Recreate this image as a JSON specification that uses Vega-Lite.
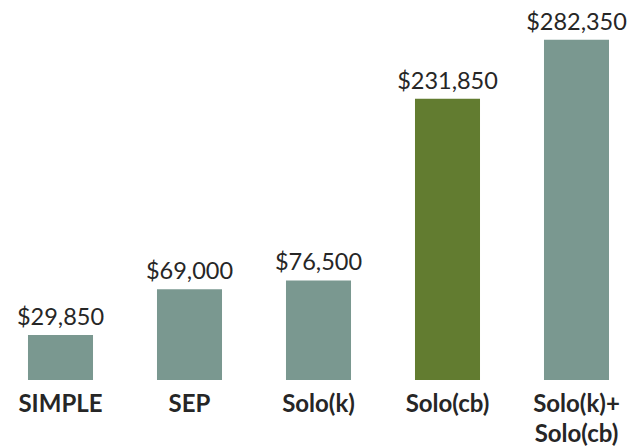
{
  "$schema": "https://vega.github.io/schema/vega-lite/v6.json",
  "width": 636,
  "height": 380,
  "autosize": "none",
  "padding": {"left": 0, "top": 0, "right": 0, "bottom": 67},
  "background": "white",
  "config": {"view": {"stroke": null}, "font": "Lato"},
  "data": {"values": [
    {"plan": "SIMPLE", "amount": 29850, "highlight": "no"},
    {"plan": "SEP", "amount": 69000, "highlight": "no"},
    {"plan": "Solo(k)", "amount": 76500, "highlight": "no"},
    {"plan": "Solo(cb)", "amount": 231850, "highlight": "yes"},
    {"plan": "Solo(k)+\nSolo(cb)", "amount": 282350, "highlight": "no"}
  ]},
  "encoding": {
    "x": {"field": "plan", "type": "nominal", "sort": null,
      "scale": {"range": [-4, 641], "paddingInner": 0.496, "paddingOuter": 0.248},
      "axis": {"title": null, "domain": false, "ticks": false, "labelAngle": 0,
        "labelFont": "Lato", "labelFontWeight": "bold", "labelFontSize": 24,
        "labelColor": "#262626", "labelPadding": 12, "labelLineHeight": 30,
        "labelExpr": "split(datum.label, '\\n')"}},
    "y": {"field": "amount", "type": "quantitative",
      "scale": {"domain": [-8730, 316390], "zero": false, "nice": false},
      "axis": null}
  },
  "layer": [
    {"mark": {"type": "bar"},
     "encoding": {
       "y2": {"datum": -8730},
       "color": {"field": "highlight", "type": "nominal",
         "scale": {"domain": ["no", "yes"], "range": ["#7A9890", "#627C30"]},
         "legend": null}}},
    {"mark": {"type": "text", "baseline": "bottom", "dy": -5, "fontSize": 23.5, "color": "#262626", "font": "Lato"},
     "encoding": {"text": {"field": "amount", "type": "quantitative", "format": "$,.0f"}}}
  ]
}
